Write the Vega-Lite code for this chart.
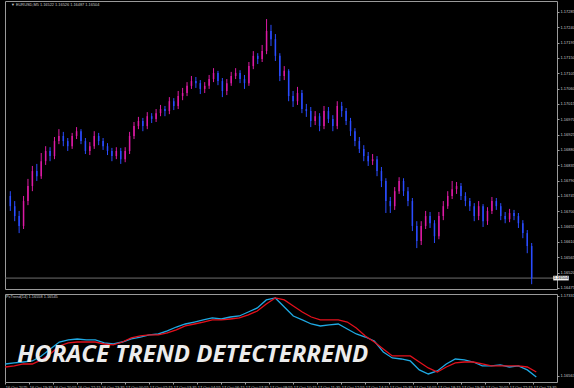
{
  "$schema": "https://vega.github.io/schema/vega-lite/v6.json",
  "background": "black",
  "padding": {"left": 2, "top": 0, "right": 0, "bottom": 0},
  "spacing": 2,
  "config": {
    "view": {"stroke": "#9a9a9a", "strokeWidth": 1},
    "axis": {"labelFont": "Liberation Sans", "labelColor": "#c8c8c8", "labelFontSize": 4, "tickColor": "#a0a0a0", "tickSize": 2, "domain": false, "grid": false, "labelPadding": 1, "title": null, "labelOverlap": false, "labelFlush": false, "labelBound": false, "tickCount": 60}
  },
  "datasets": {
    "px": [
      {"t": "2025-10-16T18:15", "o": 1.16745, "h": 1.16759, "l": 1.16701, "c": 1.16715},
      {"t": "2025-10-16T18:30", "o": 1.16715, "h": 1.16730, "l": 1.16671, "c": 1.16686},
      {"t": "2025-10-16T18:45", "o": 1.16686, "h": 1.16701, "l": 1.16636, "c": 1.16657},
      {"t": "2025-10-16T19:00", "o": 1.16657, "h": 1.16745, "l": 1.16648, "c": 1.16730},
      {"t": "2025-10-16T19:15", "o": 1.16730, "h": 1.16795, "l": 1.16718, "c": 1.16774},
      {"t": "2025-10-16T19:30", "o": 1.16774, "h": 1.16833, "l": 1.16759, "c": 1.16818},
      {"t": "2025-10-16T19:45", "o": 1.16818, "h": 1.16839, "l": 1.16789, "c": 1.16803},
      {"t": "2025-10-16T20:00", "o": 1.16803, "h": 1.16871, "l": 1.16795, "c": 1.16847},
      {"t": "2025-10-16T20:15", "o": 1.16847, "h": 1.16891, "l": 1.16836, "c": 1.16877},
      {"t": "2025-10-16T20:30", "o": 1.16877, "h": 1.16888, "l": 1.16847, "c": 1.16862},
      {"t": "2025-10-16T20:45", "o": 1.16862, "h": 1.16918, "l": 1.16853, "c": 1.16906},
      {"t": "2025-10-16T21:00", "o": 1.16906, "h": 1.16941, "l": 1.16897, "c": 1.16921},
      {"t": "2025-10-16T21:15", "o": 1.16921, "h": 1.16933, "l": 1.16891, "c": 1.16906},
      {"t": "2025-10-16T21:30", "o": 1.16906, "h": 1.16915, "l": 1.16877, "c": 1.16891},
      {"t": "2025-10-16T21:45", "o": 1.16891, "h": 1.16930, "l": 1.16883, "c": 1.16921},
      {"t": "2025-10-16T22:00", "o": 1.16921, "h": 1.16947, "l": 1.16912, "c": 1.16935},
      {"t": "2025-10-16T22:15", "o": 1.16935, "h": 1.16941, "l": 1.16897, "c": 1.16906},
      {"t": "2025-10-16T22:30", "o": 1.16906, "h": 1.16915, "l": 1.16868, "c": 1.16877},
      {"t": "2025-10-16T22:45", "o": 1.16877, "h": 1.16903, "l": 1.16865, "c": 1.16891},
      {"t": "2025-10-16T23:00", "o": 1.16891, "h": 1.16935, "l": 1.16883, "c": 1.16921},
      {"t": "2025-10-16T23:15", "o": 1.16921, "h": 1.16930, "l": 1.16894, "c": 1.16906},
      {"t": "2025-10-16T23:30", "o": 1.16906, "h": 1.16915, "l": 1.16880, "c": 1.16891},
      {"t": "2025-10-16T23:45", "o": 1.16891, "h": 1.16900, "l": 1.16865, "c": 1.16877},
      {"t": "2025-10-17T00:00", "o": 1.16877, "h": 1.16886, "l": 1.16847, "c": 1.16862},
      {"t": "2025-10-17T00:15", "o": 1.16862, "h": 1.16888, "l": 1.16853, "c": 1.16877},
      {"t": "2025-10-17T00:30", "o": 1.16877, "h": 1.16886, "l": 1.16839, "c": 1.16853},
      {"t": "2025-10-17T00:45", "o": 1.16853, "h": 1.16888, "l": 1.16844, "c": 1.16877},
      {"t": "2025-10-17T01:00", "o": 1.16877, "h": 1.16933, "l": 1.16868, "c": 1.16921},
      {"t": "2025-10-17T01:15", "o": 1.16921, "h": 1.16962, "l": 1.16912, "c": 1.16950},
      {"t": "2025-10-17T01:30", "o": 1.16950, "h": 1.16977, "l": 1.16941, "c": 1.16965},
      {"t": "2025-10-17T01:45", "o": 1.16965, "h": 1.16974, "l": 1.16935, "c": 1.16950},
      {"t": "2025-10-17T02:00", "o": 1.16950, "h": 1.16991, "l": 1.16941, "c": 1.16979},
      {"t": "2025-10-17T02:15", "o": 1.16979, "h": 1.16988, "l": 1.16959, "c": 1.16971},
      {"t": "2025-10-17T02:30", "o": 1.16971, "h": 1.17000, "l": 1.16962, "c": 1.16988},
      {"t": "2025-10-17T02:45", "o": 1.16988, "h": 1.17012, "l": 1.16979, "c": 1.17000},
      {"t": "2025-10-17T03:00", "o": 1.17000, "h": 1.17009, "l": 1.16979, "c": 1.16994},
      {"t": "2025-10-17T03:15", "o": 1.16994, "h": 1.17035, "l": 1.16985, "c": 1.17023},
      {"t": "2025-10-17T03:30", "o": 1.17023, "h": 1.17032, "l": 1.16997, "c": 1.17009},
      {"t": "2025-10-17T03:45", "o": 1.17009, "h": 1.17053, "l": 1.17000, "c": 1.17038},
      {"t": "2025-10-17T04:00", "o": 1.17038, "h": 1.17062, "l": 1.17026, "c": 1.17047},
      {"t": "2025-10-17T04:15", "o": 1.17047, "h": 1.17079, "l": 1.17038, "c": 1.17068},
      {"t": "2025-10-17T04:30", "o": 1.17068, "h": 1.17097, "l": 1.17059, "c": 1.17082},
      {"t": "2025-10-17T04:45", "o": 1.17082, "h": 1.17094, "l": 1.17062, "c": 1.17076},
      {"t": "2025-10-17T05:00", "o": 1.17076, "h": 1.17085, "l": 1.17044, "c": 1.17059},
      {"t": "2025-10-17T05:15", "o": 1.17059, "h": 1.17079, "l": 1.17047, "c": 1.17068},
      {"t": "2025-10-17T05:30", "o": 1.17068, "h": 1.17100, "l": 1.17059, "c": 1.17088},
      {"t": "2025-10-17T05:45", "o": 1.17088, "h": 1.17120, "l": 1.17079, "c": 1.17106},
      {"t": "2025-10-17T06:00", "o": 1.17106, "h": 1.17112, "l": 1.17070, "c": 1.17082},
      {"t": "2025-10-17T06:15", "o": 1.17082, "h": 1.17091, "l": 1.17035, "c": 1.17053},
      {"t": "2025-10-17T06:30", "o": 1.17053, "h": 1.17088, "l": 1.17041, "c": 1.17076},
      {"t": "2025-10-17T06:45", "o": 1.17076, "h": 1.17109, "l": 1.17068, "c": 1.17097},
      {"t": "2025-10-17T07:00", "o": 1.17097, "h": 1.17120, "l": 1.17088, "c": 1.17106},
      {"t": "2025-10-17T07:15", "o": 1.17106, "h": 1.17114, "l": 1.17076, "c": 1.17088},
      {"t": "2025-10-17T07:30", "o": 1.17088, "h": 1.17100, "l": 1.17059, "c": 1.17076},
      {"t": "2025-10-17T07:45", "o": 1.17076, "h": 1.17138, "l": 1.17068, "c": 1.17126},
      {"t": "2025-10-17T08:00", "o": 1.17126, "h": 1.17170, "l": 1.17117, "c": 1.17156},
      {"t": "2025-10-17T08:15", "o": 1.17156, "h": 1.17164, "l": 1.17132, "c": 1.17147},
      {"t": "2025-10-17T08:30", "o": 1.17147, "h": 1.17188, "l": 1.17138, "c": 1.17170},
      {"t": "2025-10-17T08:45", "o": 1.17170, "h": 1.17264, "l": 1.17161, "c": 1.17229},
      {"t": "2025-10-17T09:00", "o": 1.17229, "h": 1.17247, "l": 1.17185, "c": 1.17205},
      {"t": "2025-10-17T09:15", "o": 1.17205, "h": 1.17220, "l": 1.17141, "c": 1.17156},
      {"t": "2025-10-17T09:30", "o": 1.17156, "h": 1.17164, "l": 1.17082, "c": 1.17097},
      {"t": "2025-10-17T09:45", "o": 1.17097, "h": 1.17126, "l": 1.17085, "c": 1.17112},
      {"t": "2025-10-17T10:00", "o": 1.17112, "h": 1.17117, "l": 1.17023, "c": 1.17038},
      {"t": "2025-10-17T10:15", "o": 1.17038, "h": 1.17053, "l": 1.17006, "c": 1.17023},
      {"t": "2025-10-17T10:30", "o": 1.17023, "h": 1.17065, "l": 1.17012, "c": 1.17047},
      {"t": "2025-10-17T10:45", "o": 1.17047, "h": 1.17056, "l": 1.16988, "c": 1.17000},
      {"t": "2025-10-17T11:00", "o": 1.17000, "h": 1.17015, "l": 1.16977, "c": 1.16994},
      {"t": "2025-10-17T11:15", "o": 1.16994, "h": 1.17006, "l": 1.16947, "c": 1.16965},
      {"t": "2025-10-17T11:30", "o": 1.16965, "h": 1.16994, "l": 1.16953, "c": 1.16979},
      {"t": "2025-10-17T11:45", "o": 1.16979, "h": 1.16988, "l": 1.16935, "c": 1.16950},
      {"t": "2025-10-17T12:00", "o": 1.16950, "h": 1.17009, "l": 1.16941, "c": 1.16994},
      {"t": "2025-10-17T12:15", "o": 1.16994, "h": 1.17006, "l": 1.16959, "c": 1.16971},
      {"t": "2025-10-17T12:30", "o": 1.16971, "h": 1.16982, "l": 1.16935, "c": 1.16950},
      {"t": "2025-10-17T12:45", "o": 1.16950, "h": 1.17023, "l": 1.16941, "c": 1.17009},
      {"t": "2025-10-17T13:00", "o": 1.17009, "h": 1.17021, "l": 1.16977, "c": 1.16994},
      {"t": "2025-10-17T13:15", "o": 1.16994, "h": 1.17003, "l": 1.16953, "c": 1.16965},
      {"t": "2025-10-17T13:30", "o": 1.16965, "h": 1.16974, "l": 1.16921, "c": 1.16935},
      {"t": "2025-10-17T13:45", "o": 1.16935, "h": 1.16944, "l": 1.16891, "c": 1.16906},
      {"t": "2025-10-17T14:00", "o": 1.16906, "h": 1.16918, "l": 1.16871, "c": 1.16883},
      {"t": "2025-10-17T14:15", "o": 1.16883, "h": 1.16894, "l": 1.16847, "c": 1.16862},
      {"t": "2025-10-17T14:30", "o": 1.16862, "h": 1.16874, "l": 1.16833, "c": 1.16847},
      {"t": "2025-10-17T14:45", "o": 1.16847, "h": 1.16868, "l": 1.16836, "c": 1.16853},
      {"t": "2025-10-17T15:00", "o": 1.16853, "h": 1.16862, "l": 1.16803, "c": 1.16818},
      {"t": "2025-10-17T15:15", "o": 1.16818, "h": 1.16830, "l": 1.16771, "c": 1.16789},
      {"t": "2025-10-17T15:30", "o": 1.16789, "h": 1.16797, "l": 1.16695, "c": 1.16730},
      {"t": "2025-10-17T15:45", "o": 1.16730, "h": 1.16742, "l": 1.16695, "c": 1.16715},
      {"t": "2025-10-17T16:00", "o": 1.16715, "h": 1.16771, "l": 1.16704, "c": 1.16759},
      {"t": "2025-10-17T16:15", "o": 1.16759, "h": 1.16800, "l": 1.16751, "c": 1.16789},
      {"t": "2025-10-17T16:30", "o": 1.16789, "h": 1.16797, "l": 1.16745, "c": 1.16759},
      {"t": "2025-10-17T16:45", "o": 1.16759, "h": 1.16771, "l": 1.16715, "c": 1.16730},
      {"t": "2025-10-17T17:00", "o": 1.16730, "h": 1.16739, "l": 1.16642, "c": 1.16657},
      {"t": "2025-10-17T17:15", "o": 1.16657, "h": 1.16671, "l": 1.16592, "c": 1.16613},
      {"t": "2025-10-17T17:30", "o": 1.16613, "h": 1.16671, "l": 1.16601, "c": 1.16657},
      {"t": "2025-10-17T17:45", "o": 1.16657, "h": 1.16701, "l": 1.16648, "c": 1.16686},
      {"t": "2025-10-17T18:00", "o": 1.16686, "h": 1.16698, "l": 1.16651, "c": 1.16665},
      {"t": "2025-10-17T18:15", "o": 1.16665, "h": 1.16674, "l": 1.16607, "c": 1.16627},
      {"t": "2025-10-17T18:30", "o": 1.16627, "h": 1.16698, "l": 1.16618, "c": 1.16686},
      {"t": "2025-10-17T18:45", "o": 1.16686, "h": 1.16730, "l": 1.16674, "c": 1.16715},
      {"t": "2025-10-17T19:00", "o": 1.16715, "h": 1.16759, "l": 1.16707, "c": 1.16745},
      {"t": "2025-10-17T19:15", "o": 1.16745, "h": 1.16789, "l": 1.16736, "c": 1.16765},
      {"t": "2025-10-17T19:30", "o": 1.16765, "h": 1.16786, "l": 1.16751, "c": 1.16774},
      {"t": "2025-10-17T19:45", "o": 1.16774, "h": 1.16783, "l": 1.16733, "c": 1.16745},
      {"t": "2025-10-17T20:00", "o": 1.16745, "h": 1.16756, "l": 1.16715, "c": 1.16730},
      {"t": "2025-10-17T20:15", "o": 1.16730, "h": 1.16739, "l": 1.16701, "c": 1.16715},
      {"t": "2025-10-17T20:30", "o": 1.16715, "h": 1.16724, "l": 1.16671, "c": 1.16686},
      {"t": "2025-10-17T20:45", "o": 1.16686, "h": 1.16730, "l": 1.16674, "c": 1.16715},
      {"t": "2025-10-17T21:00", "o": 1.16715, "h": 1.16721, "l": 1.16654, "c": 1.16671},
      {"t": "2025-10-17T21:15", "o": 1.16671, "h": 1.16712, "l": 1.16660, "c": 1.16701},
      {"t": "2025-10-17T21:30", "o": 1.16701, "h": 1.16742, "l": 1.16692, "c": 1.16730},
      {"t": "2025-10-17T21:45", "o": 1.16730, "h": 1.16739, "l": 1.16704, "c": 1.16715},
      {"t": "2025-10-17T22:00", "o": 1.16715, "h": 1.16724, "l": 1.16674, "c": 1.16686},
      {"t": "2025-10-17T22:15", "o": 1.16686, "h": 1.16698, "l": 1.16665, "c": 1.16677},
      {"t": "2025-10-17T22:30", "o": 1.16677, "h": 1.16707, "l": 1.16668, "c": 1.16695},
      {"t": "2025-10-17T22:45", "o": 1.16695, "h": 1.16704, "l": 1.16674, "c": 1.16686},
      {"t": "2025-10-17T23:00", "o": 1.16686, "h": 1.16695, "l": 1.16651, "c": 1.16665},
      {"t": "2025-10-17T23:15", "o": 1.16665, "h": 1.16674, "l": 1.16621, "c": 1.16636},
      {"t": "2025-10-17T23:30", "o": 1.16636, "h": 1.16645, "l": 1.16577, "c": 1.16598},
      {"t": "2025-10-17T23:45", "o": 1.16598, "h": 1.16607, "l": 1.16486, "c": 1.16504}
    ],
    "ind": [
      {"t": "2025-10-16T18:15", "a": 1.16678, "b": 1.16649},
      {"t": "2025-10-16T18:45", "a": 1.16688, "b": 1.16659},
      {"t": "2025-10-16T19:15", "a": 1.16697, "b": 1.16678},
      {"t": "2025-10-16T19:45", "a": 1.16707, "b": 1.16678},
      {"t": "2025-10-16T20:15", "a": 1.16755, "b": 1.16717},
      {"t": "2025-10-16T20:45", "a": 1.16822, "b": 1.16774},
      {"t": "2025-10-16T21:15", "a": 1.16889, "b": 1.16851},
      {"t": "2025-10-16T21:45", "a": 1.16909, "b": 1.16880},
      {"t": "2025-10-16T22:15", "a": 1.16918, "b": 1.16889},
      {"t": "2025-10-16T22:45", "a": 1.16909, "b": 1.16889},
      {"t": "2025-10-16T23:15", "a": 1.16909, "b": 1.16889},
      {"t": "2025-10-16T23:45", "a": 1.16880, "b": 1.16870},
      {"t": "2025-10-17T00:15", "a": 1.16870, "b": 1.16861},
      {"t": "2025-10-17T00:45", "a": 1.16889, "b": 1.16889},
      {"t": "2025-10-17T01:15", "a": 1.16918, "b": 1.16928},
      {"t": "2025-10-17T01:45", "a": 1.16937, "b": 1.16947},
      {"t": "2025-10-17T02:15", "a": 1.16957, "b": 1.16957},
      {"t": "2025-10-17T02:45", "a": 1.16966, "b": 1.16957},
      {"t": "2025-10-17T03:15", "a": 1.16995, "b": 1.16976},
      {"t": "2025-10-17T03:45", "a": 1.17033, "b": 1.17005},
      {"t": "2025-10-17T04:15", "a": 1.17062, "b": 1.17043},
      {"t": "2025-10-17T04:45", "a": 1.17081, "b": 1.17062},
      {"t": "2025-10-17T05:15", "a": 1.17101, "b": 1.17081},
      {"t": "2025-10-17T05:45", "a": 1.17120, "b": 1.17101},
      {"t": "2025-10-17T06:15", "a": 1.17110, "b": 1.17101},
      {"t": "2025-10-17T06:45", "a": 1.17129, "b": 1.17110},
      {"t": "2025-10-17T07:15", "a": 1.17139, "b": 1.17120},
      {"t": "2025-10-17T07:45", "a": 1.17177, "b": 1.17149},
      {"t": "2025-10-17T08:15", "a": 1.17216, "b": 1.17187},
      {"t": "2025-10-17T08:45", "a": 1.17293, "b": 1.17254},
      {"t": "2025-10-17T09:15", "a": 1.17312, "b": 1.17312},
      {"t": "2025-10-17T09:45", "a": 1.17225, "b": 1.17293},
      {"t": "2025-10-17T10:15", "a": 1.17139, "b": 1.17235},
      {"t": "2025-10-17T10:45", "a": 1.17101, "b": 1.17177},
      {"t": "2025-10-17T11:15", "a": 1.17062, "b": 1.17129},
      {"t": "2025-10-17T11:45", "a": 1.17043, "b": 1.17101},
      {"t": "2025-10-17T12:15", "a": 1.17053, "b": 1.17101},
      {"t": "2025-10-17T12:45", "a": 1.17062, "b": 1.17101},
      {"t": "2025-10-17T13:15", "a": 1.17014, "b": 1.17081},
      {"t": "2025-10-17T13:45", "a": 1.16966, "b": 1.17024},
      {"t": "2025-10-17T14:15", "a": 1.16937, "b": 1.16947},
      {"t": "2025-10-17T14:45", "a": 1.16899, "b": 1.16889},
      {"t": "2025-10-17T15:15", "a": 1.16793, "b": 1.16822},
      {"t": "2025-10-17T15:45", "a": 1.16736, "b": 1.16755},
      {"t": "2025-10-17T16:15", "a": 1.16726, "b": 1.16755},
      {"t": "2025-10-17T16:45", "a": 1.16707, "b": 1.16755},
      {"t": "2025-10-17T17:15", "a": 1.16621, "b": 1.16697},
      {"t": "2025-10-17T17:45", "a": 1.16582, "b": 1.16640},
      {"t": "2025-10-17T18:15", "a": 1.16611, "b": 1.16601},
      {"t": "2025-10-17T18:45", "a": 1.16678, "b": 1.16649},
      {"t": "2025-10-17T19:15", "a": 1.16726, "b": 1.16688},
      {"t": "2025-10-17T19:45", "a": 1.16717, "b": 1.16697},
      {"t": "2025-10-17T20:15", "a": 1.16697, "b": 1.16697},
      {"t": "2025-10-17T20:45", "a": 1.16659, "b": 1.16678},
      {"t": "2025-10-17T21:15", "a": 1.16659, "b": 1.16659},
      {"t": "2025-10-17T21:45", "a": 1.16669, "b": 1.16659},
      {"t": "2025-10-17T22:15", "a": 1.16649, "b": 1.16659},
      {"t": "2025-10-17T22:45", "a": 1.16659, "b": 1.16659},
      {"t": "2025-10-17T23:15", "a": 1.16621, "b": 1.16649},
      {"t": "2025-10-17T23:45", "a": 1.16553, "b": 1.16601}
    ],
    "bid": [{"p": 1.16504, "label": "1.16504"}]
  },
  "vconcat": [
    {
      "width": 552,
      "height": 288,
      "layer": [
        {
          "data": {"name": "bid"},
          "mark": {"type": "rule", "color": "#6e6e6e", "strokeWidth": 1},
          "encoding": {
            "y": {"field": "p", "type": "quantitative", "scale": {"domain": [1.16472, 1.17317], "zero": false, "nice": false},
              "axis": {"orient": "right", "labelOverlap": false, "tickCount": 60, "values": [1.16475, 1.1652, 1.16565, 1.1661, 1.16655, 1.167, 1.16745, 1.1679, 1.16835, 1.1688, 1.16925, 1.1697, 1.17015, 1.1706, 1.17105, 1.1715, 1.17195, 1.1724, 1.17285], "format": ".5f", "minExtent": 18, "maxExtent": 18}}
          }
        },
        {
          "data": {"name": "px"},
          "mark": {"type": "rule", "strokeWidth": 1},
          "encoding": {
            "x": {"field": "t", "type": "temporal", "scale": {"domain": [{"year": 2025, "month": 10, "date": 16, "hours": 18, "minutes": 14}, {"year": 2025, "month": 10, "date": 18, "hours": 0, "minutes": 54}]}, "axis": null},
            "y": {"field": "l", "type": "quantitative"},
            "y2": {"field": "h"},
            "color": {"condition": {"test": "datum.c >= datum.o", "value": "#dc1aa4"}, "value": "#2a4cff"}
          }
        },
        {
          "data": {"name": "px"},
          "mark": {"type": "bar", "size": 1.5},
          "encoding": {
            "x": {"field": "t", "type": "temporal"},
            "y": {"field": "o", "type": "quantitative"},
            "y2": {"field": "c"},
            "color": {"condition": {"test": "datum.c >= datum.o", "value": "#dc1aa4"}, "value": "#2a4cff"}
          }
        },
        {
          "data": {"name": "bid"},
          "mark": {"type": "point", "shape": "M-1,-0.3L1,-0.3L1,0.3L-1,0.3Z", "filled": true, "opacity": 1, "color": "#f0f0f0", "size": 240, "xOffset": 9},
          "encoding": {
            "x": {"datum": {"year": 2025, "month": 10, "date": 18, "hours": 0, "minutes": 54}, "type": "temporal"},
            "y": {"field": "p", "type": "quantitative"}
          }
        },
        {
          "data": {"name": "bid"},
          "mark": {"type": "text", "font": "Liberation Sans", "fontSize": 4, "color": "#000000", "align": "center", "baseline": "middle", "xOffset": 9},
          "encoding": {
            "x": {"datum": {"year": 2025, "month": 10, "date": 18, "hours": 0, "minutes": 54}, "type": "temporal"},
            "y": {"field": "p", "type": "quantitative"},
            "text": {"field": "label"}
          }
        },
        {
          "data": {"values": [{"txt": "▼ EURUSD,M5  1.16522 1.16526 1.16487 1.16504"}]},
          "mark": {"type": "text", "font": "Liberation Sans", "fontSize": 3.9, "color": "#c8c8c8", "align": "left", "baseline": "middle", "dx": 1},
          "encoding": {
            "x": {"datum": {"year": 2025, "month": 10, "date": 16, "hours": 18, "minutes": 14}, "type": "temporal"},
            "y": {"datum": 1.17305},
            "text": {"field": "txt"}
          }
        }
      ]
    },
    {
      "width": 552,
      "height": 88,
      "layer": [
        {
          "data": {"name": "ind"},
          "mark": {"type": "line", "color": "#1fa9e3", "strokeWidth": 1.3},
          "encoding": {
            "x": {"field": "t", "type": "temporal", "scale": {"domain": [{"year": 2025, "month": 10, "date": 16, "hours": 18, "minutes": 14}, {"year": 2025, "month": 10, "date": 18, "hours": 0, "minutes": 54}]},
              "axis": {"orient": "bottom", "labelOverlap": false, "tickCount": 60, "minExtent": 10, "maxExtent": 10, "labelAlign": "left", "labelBaseline": "top",
                "values": [
                  {"year": 2025, "month": 10, "date": 16, "hours": 18, "minutes": 15},
                  {"year": 2025, "month": 10, "date": 16, "hours": 19, "minutes": 35},
                  {"year": 2025, "month": 10, "date": 16, "hours": 20, "minutes": 55},
                  {"year": 2025, "month": 10, "date": 16, "hours": 22, "minutes": 15},
                  {"year": 2025, "month": 10, "date": 16, "hours": 23, "minutes": 35},
                  {"year": 2025, "month": 10, "date": 17, "hours": 0, "minutes": 55},
                  {"year": 2025, "month": 10, "date": 17, "hours": 2, "minutes": 15},
                  {"year": 2025, "month": 10, "date": 17, "hours": 3, "minutes": 35},
                  {"year": 2025, "month": 10, "date": 17, "hours": 4, "minutes": 55},
                  {"year": 2025, "month": 10, "date": 17, "hours": 6, "minutes": 15},
                  {"year": 2025, "month": 10, "date": 17, "hours": 7, "minutes": 35},
                  {"year": 2025, "month": 10, "date": 17, "hours": 8, "minutes": 55},
                  {"year": 2025, "month": 10, "date": 17, "hours": 10, "minutes": 15},
                  {"year": 2025, "month": 10, "date": 17, "hours": 11, "minutes": 35},
                  {"year": 2025, "month": 10, "date": 17, "hours": 12, "minutes": 55},
                  {"year": 2025, "month": 10, "date": 17, "hours": 14, "minutes": 15},
                  {"year": 2025, "month": 10, "date": 17, "hours": 15, "minutes": 35},
                  {"year": 2025, "month": 10, "date": 17, "hours": 16, "minutes": 55},
                  {"year": 2025, "month": 10, "date": 17, "hours": 18, "minutes": 15},
                  {"year": 2025, "month": 10, "date": 17, "hours": 19, "minutes": 35},
                  {"year": 2025, "month": 10, "date": 17, "hours": 20, "minutes": 55},
                  {"year": 2025, "month": 10, "date": 17, "hours": 22, "minutes": 15},
                  {"year": 2025, "month": 10, "date": 17, "hours": 23, "minutes": 35}
                ],
                "labelExpr": "(timeFormat(datum.value, '%d %H:%M') == '16 18:15') ? '16 Oct 2025' : timeFormat(datum.value, '%d %b %H:%M')"}},
            "y": {"field": "a", "type": "quantitative", "scale": {"domain": [1.16505, 1.1735], "zero": false, "nice": false},
              "axis": {"orient": "right", "labelOverlap": false, "values": [1.16563, 1.17331], "format": ".5f", "minExtent": 18, "maxExtent": 18}}
          }
        },
        {
          "data": {"name": "ind"},
          "mark": {"type": "line", "color": "#e3101c", "strokeWidth": 1.3},
          "encoding": {
            "x": {"field": "t", "type": "temporal"},
            "y": {"field": "b", "type": "quantitative"}
          }
        },
        {
          "data": {"values": [{"txt": "PxTrend(14) 1.16558 1.16545"}]},
          "mark": {"type": "text", "font": "Liberation Sans", "fontSize": 3.9, "color": "#c8c8c8", "align": "left", "baseline": "middle", "dx": 1},
          "encoding": {
            "x": {"datum": {"year": 2025, "month": 10, "date": 16, "hours": 18, "minutes": 14}, "type": "temporal"},
            "y": {"datum": 1.17321},
            "text": {"field": "txt"}
          }
        },
        {
          "data": {"values": [{"txt": "HORACE TREND DETECTERREND"}]},
          "mark": {"type": "text", "font": "Open Sans", "fontSize": 24, "fontWeight": "bold", "fontStyle": "italic", "color": "#ececec", "align": "center", "baseline": "alphabetic"},
          "encoding": {
            "x": {"datum": {"year": 2025, "month": 10, "date": 17, "hours": 4, "minutes": 40}, "type": "temporal"},
            "y": {"datum": 1.16698},
            "text": {"field": "txt"}
          }
        }
      ]
    }
  ]
}
